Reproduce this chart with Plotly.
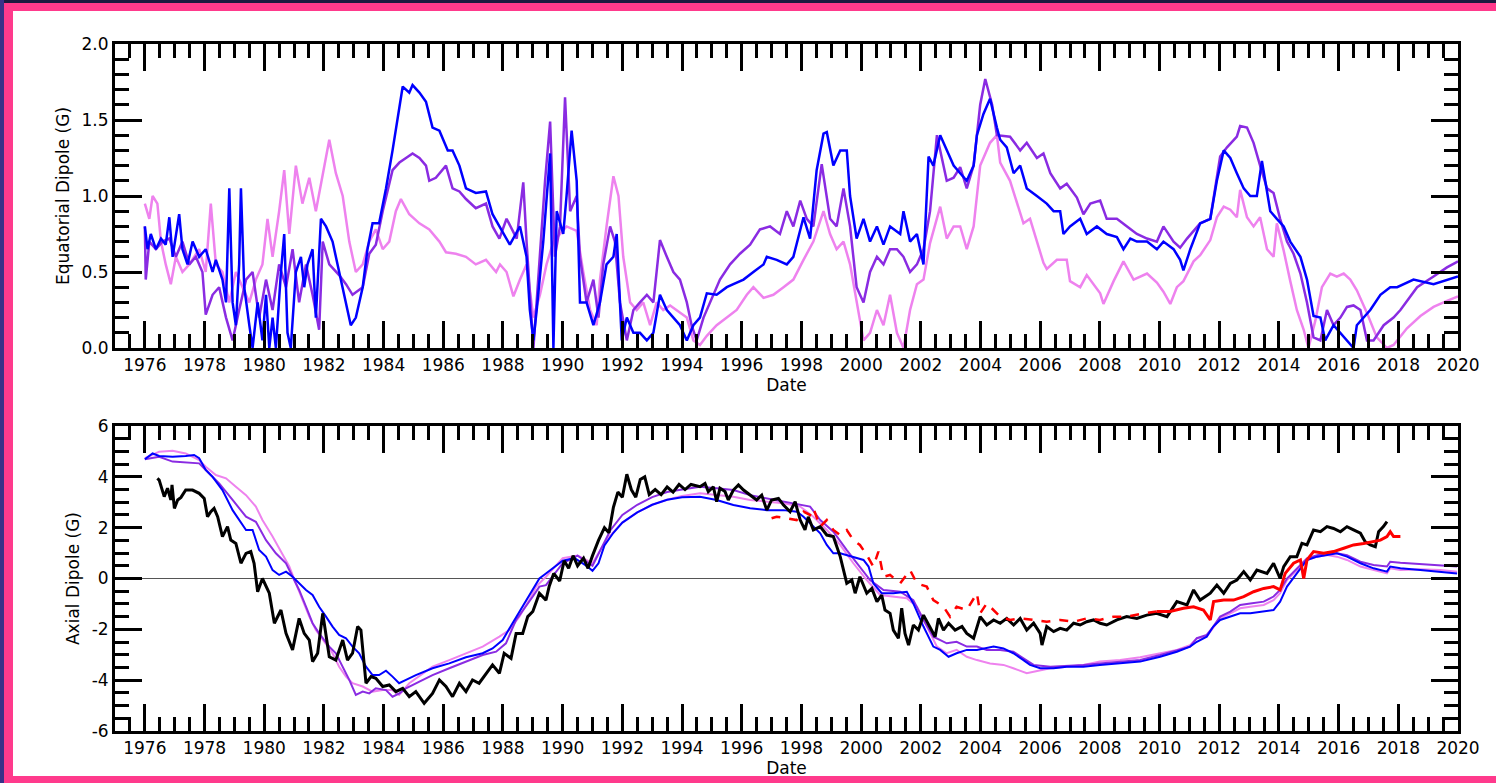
import plotly.graph_objects as go

# ---------------- data (year, value) ----------------
eq_blue = [(1976.0,0.80),(1976.09,0.65),(1976.2,0.75),(1976.37,0.65),(1976.54,0.72),(1976.7,0.68),(1976.82,0.86),(1976.93,0.60),
 (1977.15,0.88),(1977.26,0.65),(1977.43,0.55),(1977.6,0.70),(1977.82,0.60),(1978.04,0.65),(1978.27,0.50),(1978.38,0.58),
 (1978.6,0.45),(1978.72,0.30),(1978.83,1.05),(1978.94,0.30),(1979.05,0.15),(1979.16,0.55),(1979.22,1.05),(1979.33,0.40),
 (1979.5,0.15),(1979.61,0.0),(1979.78,0.30),(1979.94,0.05),(1980.06,0.35),(1980.17,0.0),(1980.28,0.20),(1980.39,0.0),
 (1980.56,0.50),(1980.67,0.75),(1980.78,0.10),(1980.89,0.0),(1981.06,0.50),(1981.23,0.60),(1981.34,0.40),(1981.45,0.55),
 (1981.62,0.65),(1981.73,0.20),(1981.9,0.85),(1982.07,0.80),(1982.29,0.70),(1982.51,0.50),(1982.74,0.30),(1982.9,0.15),
 (1983.07,0.20),(1983.3,0.40),(1983.46,0.65),(1983.63,0.82),(1983.85,0.82),(1984.08,1.05),(1984.3,1.30),(1984.53,1.60),
 (1984.64,1.72),(1984.86,1.68),(1984.97,1.73),(1985.2,1.68),(1985.42,1.62),(1985.64,1.45),(1985.87,1.43),(1986.15,1.30),
 (1986.31,1.30),(1986.54,1.20),(1986.76,1.05),(1987.09,1.02),(1987.43,1.03),(1987.65,0.88),(1987.88,0.80),
 (1988.23,0.68),(1988.57,0.80),(1988.79,0.60),(1988.9,0.25),(1989.02,0.05),(1989.13,0.25),(1989.35,0.70),(1989.58,1.28),
 (1989.69,0.0),(1989.8,0.90),(1990.02,0.75),(1990.13,1.00),(1990.3,1.43),(1990.47,1.10),(1990.58,0.30),(1990.8,0.30),
 (1991.03,0.15),(1991.25,0.30),(1991.47,0.55),(1991.7,0.60),(1991.81,0.75),(1991.98,0.05),(1992.15,0.20),(1992.37,0.10),
 (1992.59,0.10),(1992.82,0.05),(1993.04,0.10),(1993.26,0.35),(1993.49,0.25),(1993.71,0.20),(1993.93,0.15),(1994.16,0.05),
 (1994.38,0.15),(1994.6,0.20),(1994.83,0.36),(1995.16,0.35),(1995.5,0.40),(1995.72,0.42),(1996.06,0.45),(1996.39,0.50),
 (1996.73,0.55),(1996.84,0.60),(1997.17,0.58),(1997.51,0.55),(1997.73,0.60),(1998.07,0.86),(1998.29,0.72),(1998.51,1.17),
 (1998.74,1.41),(1998.85,1.42),(1999.07,1.20),(1999.3,1.30),(1999.52,1.30),(1999.63,1.00),(1999.85,0.72),(2000.08,0.85),
 (2000.3,0.70),(2000.53,0.80),(2000.75,0.68),(2000.97,0.80),(2001.31,0.75),(2001.42,0.90),(2001.64,0.70),(2001.87,0.75),
 (2002.09,0.55),(2002.26,1.26),(2002.42,1.20),(2002.65,1.40),(2002.87,1.30),(2003.1,1.20),(2003.32,1.15),(2003.54,1.10),
 (2003.77,1.20),(2003.88,1.40),(2004.1,1.54),(2004.32,1.64),(2004.55,1.45),(2004.66,1.37),(2004.88,1.32),(2005.11,1.15),
 (2005.33,1.20),(2005.55,1.05),(2005.89,1.00),(2006.22,0.95),(2006.45,0.90),(2006.67,0.90),(2006.78,0.75),(2007.0,0.80),
 (2007.34,0.85),(2007.56,0.75),(2007.9,0.80),(2008.23,0.75),(2008.57,0.73),(2008.79,0.65),(2009.02,0.72),(2009.24,0.70),
 (2009.58,0.70),(2009.91,0.65),(2010.13,0.70),(2010.47,0.65),(2010.69,0.58),(2010.8,0.51),(2011.03,0.65),(2011.36,0.82),
 (2011.7,0.85),(2011.92,1.10),(2012.15,1.30),(2012.37,1.25),(2012.59,1.15),(2012.82,1.05),(2013.04,1.00),(2013.26,1.00),
 (2013.43,1.23),(2013.71,0.90),(2013.93,0.85),(2014.16,0.80),(2014.38,0.70),(2014.72,0.60),(2014.94,0.45),(2015.16,0.21),
 (2015.39,0.20),(2015.55,0.05),(2015.83,0.15),(2016.06,0.10),(2016.28,0.05),(2016.5,0.0),(2016.61,0.15),(2016.84,0.20),
 (2017.06,0.25),(2017.4,0.35),(2017.73,0.40),(2017.96,0.40),(2018.51,0.45),(2019.18,0.42),(2019.91,0.46),(2020.0,0.47)]

eq_purple = [(1976.0,0.80),(1976.03,0.45),(1976.15,0.70),(1976.37,0.65),(1976.59,0.70),(1976.82,0.72),(1977.04,0.60),
 (1977.26,0.70),(1977.49,0.55),(1977.71,0.60),(1977.93,0.50),(1978.04,0.22),(1978.27,0.35),(1978.49,0.40),(1978.72,0.20),
 (1978.94,0.05),(1979.16,0.25),(1979.39,0.45),(1979.61,0.50),(1979.83,0.20),(1980.06,0.45),(1980.28,0.25),(1980.5,0.55),
 (1980.73,0.40),(1980.95,0.65),(1981.17,0.30),(1981.4,0.55),(1981.62,0.35),(1981.84,0.12),(1981.96,0.70),(1982.18,0.55),
 (1982.51,0.48),(1982.74,0.42),(1982.96,0.35),(1983.3,0.40),(1983.52,0.62),(1983.74,0.68),(1983.97,0.90),(1984.3,1.17),
 (1984.53,1.22),(1984.75,1.25),(1984.97,1.28),(1985.2,1.25),(1985.42,1.20),(1985.53,1.10),(1985.75,1.12),(1986.09,1.20),
 (1986.31,1.05),(1986.54,1.03),(1986.76,0.98),(1987.09,0.92),(1987.43,0.95),(1987.65,0.80),(1987.88,0.72),
 (1988.12,0.85),(1988.46,0.72),(1988.68,1.09),(1988.79,0.70),(1989.02,0.0),(1989.24,0.60),(1989.41,1.10),(1989.58,1.49),
 (1989.74,0.60),(1989.91,0.80),(1990.08,1.65),(1990.25,0.90),(1990.47,1.00),(1990.58,0.60),(1990.8,0.30),(1991.03,0.45),
 (1991.2,0.20),(1991.36,0.55),(1991.59,0.80),(1991.75,0.70),(1991.92,0.30),(1992.15,0.05),(1992.37,0.25),(1992.59,0.30),
 (1992.82,0.35),(1993.04,0.30),(1993.26,0.71),(1993.49,0.60),(1993.71,0.50),(1993.93,0.45),(1994.16,0.30),(1994.32,0.15),
 (1994.49,0.05),(1994.72,0.20),(1995.05,0.35),(1995.27,0.45),(1995.61,0.55),(1995.94,0.62),(1996.28,0.68),(1996.61,0.78),
 (1996.95,0.80),(1997.28,0.75),(1997.51,0.90),(1997.73,0.80),(1997.96,0.97),(1998.18,0.85),(1998.4,0.80),(1998.68,1.21),
 (1998.96,0.85),(1999.18,0.80),(1999.41,1.05),(1999.63,0.80),(1999.85,0.40),(2000.08,0.30),(2000.3,0.50),(2000.53,0.60),
 (2000.75,0.55),(2000.97,0.65),(2001.2,0.65),(2001.42,0.60),(2001.64,0.50),(2001.87,0.55),(2002.09,0.65),(2002.31,0.90),
 (2002.54,1.40),(2002.76,1.20),(2002.87,1.10),(2003.1,1.12),(2003.32,1.19),(2003.54,1.05),(2003.77,1.20),(2003.99,1.60),
 (2004.16,1.77),(2004.39,1.60),(2004.55,1.40),(2004.99,1.39),(2005.33,1.30),(2005.55,1.35),(2005.89,1.25),(2006.11,1.28),
 (2006.34,1.15),(2006.67,1.05),(2006.89,1.08),(2007.23,0.99),(2007.45,0.88),(2007.68,0.95),(2008.01,0.97),(2008.23,0.85),
 (2008.57,0.85),(2008.91,0.80),(2009.24,0.75),(2009.58,0.72),(2009.91,0.70),(2010.13,0.80),(2010.47,0.70),(2010.69,0.66),
 (2010.92,0.72),(2011.36,0.82),(2011.7,0.85),(2012.03,1.26),(2012.26,1.32),(2012.59,1.39),(2012.7,1.46),(2012.93,1.45),
 (2013.15,1.35),(2013.37,1.20),(2013.6,1.05),(2013.82,1.02),(2014.04,0.85),(2014.27,0.70),(2014.49,0.62),(2014.72,0.49),
 (2014.94,0.30),(2015.16,0.07),(2015.39,0.05),(2015.61,0.25),(2015.83,0.15),(2016.06,0.20),(2016.28,0.27),(2016.5,0.28),
 (2016.73,0.25),(2016.95,0.05),(2017.17,0.05),(2017.51,0.15),(2017.84,0.20),(2018.07,0.25),(2018.63,0.40),(2019.18,0.47),
 (2019.63,0.53),(2019.91,0.56),(2020.0,0.57)]

eq_violet = [(1976.0,0.95),(1976.15,0.85),(1976.26,1.00),(1976.42,0.95),(1976.54,0.70),(1976.7,0.55),(1976.87,0.42),
 (1977.04,0.60),(1977.26,0.50),(1977.49,0.55),(1977.82,0.65),(1978.04,0.50),(1978.21,0.95),(1978.38,0.55),(1978.6,0.50),
 (1978.83,0.30),(1979.05,0.50),(1979.27,0.40),(1979.5,0.30),(1979.72,0.45),(1979.94,0.55),(1980.11,0.85),(1980.28,0.60),
 (1980.5,0.90),(1980.67,1.17),(1980.84,0.75),(1981.06,1.20),(1981.28,0.95),(1981.51,1.12),(1981.73,0.90),(1981.96,1.15),
 (1982.18,1.37),(1982.4,1.15),(1982.63,1.00),(1982.85,0.70),(1983.07,0.50),(1983.3,0.55),(1983.52,0.70),(1983.74,0.78),
 (1983.97,0.65),(1984.19,0.70),(1984.41,0.90),(1984.58,0.98),(1984.86,0.88),(1985.2,0.82),(1985.53,0.78),(1985.87,0.70),
 (1986.09,0.63),(1986.42,0.62),(1986.76,0.60),(1987.09,0.55),(1987.43,0.58),(1987.77,0.50),
 (1987.9,0.55),(1988.12,0.50),(1988.35,0.34),(1988.57,0.45),(1988.79,0.55),(1989.02,0.20),(1989.24,0.35),(1989.46,0.55),
 (1989.69,0.70),(1990.13,0.80),(1990.47,0.77),(1990.69,0.50),(1990.92,0.25),(1991.14,0.15),(1991.25,0.45),(1991.47,0.80),
 (1991.7,1.13),(1991.87,1.00),(1992.03,0.60),(1992.26,0.30),(1992.48,0.25),(1992.7,0.30),(1992.93,0.15),(1993.15,0.30),
 (1993.37,0.25),(1993.6,0.28),(1993.82,0.25),(1994.16,0.20),(1994.38,0.05),(1994.6,0.02),(1994.83,0.08),(1995.16,0.15),
 (1995.5,0.20),(1995.83,0.25),(1996.17,0.35),(1996.39,0.40),(1996.73,0.33),(1997.06,0.35),(1997.4,0.40),(1997.73,0.45),
 (1998.07,0.58),(1998.4,0.70),(1998.74,0.90),(1998.96,0.75),(1999.18,0.65),(1999.41,0.70),(1999.63,0.55),(1999.85,0.30),
 (2000.08,0.05),(2000.3,0.10),(2000.53,0.25),(2000.75,0.15),(2000.97,0.35),(2001.2,0.10),(2001.42,0.0),(2001.64,0.25),
 (2001.87,0.42),(2002.09,0.45),(2002.31,0.69),(2002.65,0.93),(2002.87,0.72),(2003.1,0.80),(2003.32,0.80),(2003.54,0.65),
 (2003.77,0.80),(2003.99,1.20),(2004.32,1.35),(2004.55,1.40),(2004.66,1.22),(2004.99,1.10),(2005.22,0.95),(2005.44,0.82),
 (2005.66,0.85),(2005.89,0.70),(2006.11,0.56),(2006.22,0.52),(2006.56,0.58),(2006.89,0.58),(2007.0,0.44),(2007.34,0.40),
 (2007.56,0.48),(2008.01,0.36),(2008.12,0.29),(2008.46,0.44),(2008.79,0.57),(2009.13,0.45),(2009.58,0.49),(2009.91,0.43),
 (2010.13,0.37),(2010.36,0.29),(2010.58,0.40),(2010.8,0.44),(2011.14,0.57),(2011.36,0.61),(2011.7,0.71),(2011.92,0.86),
 (2012.15,0.93),(2012.37,0.91),(2012.59,0.86),(2012.7,1.04),(2012.93,0.86),(2013.15,0.80),(2013.37,0.86),(2013.6,0.65),
 (2013.82,0.60),(2013.93,0.82),(2014.16,0.64),(2014.38,0.44),(2014.6,0.25),(2014.83,0.12),(2014.99,0.0),(2015.22,0.18),
 (2015.44,0.40),(2015.72,0.49),(2015.94,0.47),(2016.17,0.49),(2016.39,0.45),(2016.61,0.38),(2016.95,0.23),(2017.28,0.07),
 (2017.62,0.0),(2017.84,0.02),(2018.29,0.13),(2018.74,0.21),(2019.18,0.27),(2019.63,0.31),(2019.91,0.33),(2020.0,0.34)]

ax_blue = [(1976.0,4.69),(1976.26,4.92),(1976.48,4.82),(1976.93,4.79),(1977.37,4.82),(1977.65,4.86),(1977.82,4.73),
 (1978.04,4.27),(1978.27,4.0),(1978.6,3.48),(1978.94,2.69),(1979.16,2.30),(1979.39,1.91),(1979.61,1.91),(1979.83,1.12),
 (1980.06,0.86),(1980.28,0.33),(1980.5,0.14),(1980.73,0.27),(1980.95,0.07),(1981.17,-0.19),(1981.4,-0.45),(1981.62,-0.65),
 (1981.84,-1.11),(1982.07,-1.50),(1982.29,-1.89),(1982.51,-2.22),(1982.74,-2.35),(1982.96,-2.68),(1983.18,-2.94),
 (1983.41,-3.47),(1983.63,-3.80),(1983.85,-3.80),(1984.08,-3.63),(1984.3,-3.86),(1984.52,-4.12),(1984.75,-3.99),
 (1985.08,-3.80),(1985.64,-3.53),(1986.2,-3.34),(1986.76,-3.10),(1987.32,-2.94),(1987.65,-2.75),(1987.99,-2.42),
 (1988.32,-1.76),(1988.66,-1.11),(1989.0,-0.45),(1989.22,0.0),(1989.44,0.20),
 (1990.0,0.7),(1990.4,0.8),(1990.8,0.5),(1991.0,0.3),(1991.2,0.6),(1991.4,1.3),(1991.7,1.8),(1992.0,2.2),(1992.5,2.6),
 (1993.0,2.9),(1993.5,3.1),(1994.0,3.2),(1994.6,3.22),(1995.16,3.09),(1995.72,2.89),(1996.28,2.76),(1996.84,2.69),
 (1997.4,2.69),(1997.85,2.63),(1998.07,2.43),(1998.4,2.04),(1998.63,1.78),(1998.85,1.32),(1999.07,0.99),(1999.3,0.99),
 (1999.52,0.92),(1999.85,0.79),(2000.08,0.73),(2000.25,0.47),(2000.41,-0.19),(2000.69,-0.58),(2001.08,-0.58),
 (2001.53,-0.52),(2001.75,-0.98),(2002.09,-1.89),(2002.42,-2.68),(2002.65,-2.81),(2002.93,-3.08),(2003.2,-2.94),
 (2003.54,-2.81),(2003.88,-2.81),(2004.21,-2.75),(2004.44,-2.68),(2004.77,-2.75),(2005.1,-2.94),(2005.44,-3.21),
 (2005.66,-3.40),(2006.0,-3.53),(2006.45,-3.53),(2006.89,-3.47),(2007.45,-3.47),(2008.0,-3.40),(2008.68,-3.34),
 (2009.35,-3.27),(2010.02,-3.08),(2010.58,-2.88),(2011.02,-2.68),(2011.25,-2.49),(2011.58,-2.29),(2011.8,-1.89),
 (2012.03,-1.63),(2012.37,-1.50),(2012.7,-1.37),(2013.04,-1.37),(2013.49,-1.30),(2013.82,-1.24),(2014.04,-0.91),
 (2014.27,-0.32),(2014.6,0.20),(2014.94,0.73),(2015.28,0.86),(2015.61,0.92),(2015.94,0.99),(2016.28,0.86),(2016.73,0.60),
 (2017.17,0.40),(2017.62,0.27),(2017.73,0.47),(2018.07,0.40),(2018.74,0.33),(2019.41,0.27),(2019.97,0.20)]

ax_purple = [(1976.0,4.69),(1976.48,4.79),(1976.93,4.60),(1977.37,4.56),(1977.82,4.53),(1978.04,4.27),(1978.49,3.74),
 (1978.94,3.09),(1979.39,2.43),(1979.72,2.23),(1980.06,1.51),(1980.39,0.99),(1980.73,0.60),(1980.95,0.07),(1981.17,-0.45),
 (1981.4,-1.11),(1981.62,-1.76),(1981.84,-2.16),(1982.18,-2.68),(1982.4,-2.94),(1982.63,-3.47),(1982.85,-3.99),
 (1983.07,-4.58),(1983.3,-4.45),(1983.52,-4.52),(1983.74,-4.32),(1984.08,-4.39),(1984.3,-4.65),(1984.53,-4.52),
 (1984.75,-4.32),(1985.2,-4.06),(1985.64,-3.80),(1986.2,-3.53),(1986.76,-3.27),(1987.32,-3.01),(1987.77,-2.88),
 (1988.1,-2.55),(1988.44,-1.63),(1988.77,-1.11),(1989.0,-0.71),(1989.22,-0.32),(1989.44,-0.26),
 (1990.0,0.6),(1990.5,0.9),(1991.0,0.5),(1991.3,1.2),(1991.6,1.9),(1992.0,2.5),(1992.5,2.9),(1993.0,3.2),(1993.5,3.4),
 (1994.0,3.5),(1994.6,3.61),(1995.16,3.55),(1995.72,3.48),(1996.28,3.28),(1996.84,3.15),(1997.4,3.02),(1997.96,2.89),
 (1998.29,2.83),(1998.63,2.30),(1999.07,1.84),(1999.52,1.12),(1999.96,0.47),(2000.3,-0.06),(2000.75,-0.45),
 (2001.31,-0.52),(2001.75,-0.85),(2002.09,-1.63),(2002.42,-2.29),(2002.87,-2.55),(2003.2,-2.49),(2003.54,-2.68),
 (2003.88,-2.68),(2004.21,-2.81),(2004.66,-2.81),(2005.1,-2.88),(2005.44,-3.14),(2005.78,-3.40),(2006.34,-3.47),
 (2006.89,-3.44),(2007.45,-3.40),(2008.0,-3.34),(2008.68,-3.27),(2009.35,-3.21),(2010.02,-3.01),(2010.58,-2.81),
 (2011.02,-2.68),(2011.25,-2.35),(2011.58,-2.22),(2011.8,-1.89),(2012.03,-1.50),(2012.37,-1.30),(2012.7,-1.04),
 (2013.04,-0.98),(2013.49,-0.91),(2013.82,-0.71),(2014.04,-0.45),(2014.27,0.0),(2014.6,0.40),(2014.94,0.79),
 (2015.28,0.92),(2015.61,0.99),(2015.94,0.99),(2016.28,0.92),(2016.73,0.66),(2017.17,0.53),(2017.62,0.47),(2017.73,0.66),
 (2018.07,0.62),(2018.74,0.57),(2019.41,0.53),(2019.97,0.47)]

ax_violet = [(1976.0,4.73),(1976.48,4.99),(1976.93,5.03),(1977.37,4.92),(1977.82,4.66),(1978.04,4.40),(1978.38,4.07),
 (1978.72,3.94),(1979.05,3.61),(1979.39,3.28),(1979.72,2.83),(1979.94,2.30),(1980.28,1.65),(1980.61,0.92),(1980.84,0.47),
 (1981.06,-0.19),(1981.28,-0.85),(1981.51,-1.50),(1981.73,-2.03),(1981.96,-2.42),(1982.29,-2.94),(1982.51,-3.47),
 (1982.74,-3.86),(1982.96,-4.12),(1983.3,-4.25),(1983.63,-4.45),(1983.97,-4.39),(1984.3,-4.39),(1984.52,-4.58),
 (1984.86,-4.12),(1985.31,-3.73),(1985.64,-3.47),(1986.2,-3.21),(1986.76,-2.94),(1987.32,-2.68),(1987.88,-2.29),
 (1988.21,-2.03),(1988.55,-1.50),(1988.88,-0.85),(1989.11,-0.32),(1989.44,0.07),
 (1990.0,0.8),(1990.5,0.9),(1991.0,0.6),(1991.3,1.2),(1991.6,1.7),(1992.0,2.2),(1992.5,2.6),(1993.0,2.9),(1993.5,3.1),
 (1994.0,3.25),(1994.6,3.35),(1995.16,3.28),(1995.72,3.22),(1996.28,3.09),(1996.84,3.02),(1997.4,2.96),(1997.96,2.83),
 (1998.4,2.43),(1998.85,1.91),(1999.3,1.32),(1999.74,0.60),(2000.19,-0.06),(2000.64,-0.65),(2001.08,-0.71),
 (2001.53,-0.78),(2001.87,-1.11),(2002.2,-1.89),(2002.54,-2.68),(2002.87,-2.94),(2003.2,-2.81),(2003.54,-3.08),
 (2003.88,-3.21),(2004.32,-3.34),(2004.77,-3.40),(2005.1,-3.53),(2005.55,-3.73),(2005.78,-3.67),(2006.34,-3.53),
 (2006.89,-3.47),(2007.45,-3.40),(2008.0,-3.27),(2008.68,-3.21),(2009.35,-3.10),(2010.02,-2.94),(2010.58,-2.81),
 (2011.02,-2.62),(2011.25,-2.35),(2011.58,-2.29),(2011.8,-1.96),(2012.03,-1.57),(2012.37,-1.37),(2012.7,-1.17),
 (2013.04,-1.11),(2013.49,-1.04),(2013.82,-0.85),(2014.04,-0.58),(2014.27,-0.06),(2014.6,0.33),(2014.94,0.73),
 (2015.28,0.86),(2015.61,0.92),(2015.94,0.86),(2016.28,0.73),(2016.73,0.47),(2017.17,0.33),(2017.62,0.20),(2017.73,0.40),
 (2018.07,0.33),(2018.74,0.36),(2019.41,0.33),(2019.97,0.27)]

ax_black = [(1976.42,3.94),(1976.48,3.87),(1976.65,3.22),(1976.76,3.55),(1976.87,3.09),(1976.91,3.68),(1976.99,2.76),
 (1977.1,3.09),(1977.21,3.19),(1977.37,3.48),(1977.6,3.48),(1977.82,3.35),(1977.99,3.15),(1978.1,2.43),(1978.21,2.63),
 (1978.32,2.76),(1978.44,2.43),(1978.6,1.65),(1978.77,2.04),(1978.88,1.51),(1979.05,1.38),(1979.22,0.60),(1979.39,0.99),
 (1979.55,1.06),(1979.66,0.60),(1979.78,-0.52),(1979.94,0.0),(1980.17,-0.58),(1980.34,-1.76),(1980.56,-1.24),
 (1980.73,-2.16),(1980.95,-2.81),(1981.17,-1.57),(1981.34,-2.16),(1981.51,-2.42),(1981.62,-3.27),(1981.79,-2.94),
 (1981.96,-1.37),(1982.18,-3.08),(1982.4,-3.21),(1982.63,-2.42),(1982.79,-3.21),(1982.96,-2.94),(1983.13,-1.89),
 (1983.24,-2.03),(1983.41,-4.12),(1983.58,-3.86),(1983.74,-3.93),(1983.97,-4.25),(1984.19,-4.19),(1984.41,-4.45),
 (1984.64,-4.32),(1984.86,-4.65),(1985.08,-4.45),(1985.36,-4.91),(1985.64,-4.52),(1985.87,-3.99),(1986.09,-4.25),
 (1986.31,-4.65),(1986.54,-4.12),(1986.76,-4.45),(1986.98,-3.99),(1987.2,-4.12),(1987.43,-3.73),(1987.65,-3.40),
 (1987.88,-3.73),(1988.04,-2.94),(1988.27,-3.14),(1988.44,-2.16),(1988.66,-2.16),(1988.83,-1.50),(1989.0,-1.30),
 (1989.22,-0.58),(1989.44,-0.85),(1989.55,-0.3),(1989.7,0.2),(1989.9,-0.1),(1990.05,0.7),(1990.2,0.4),(1990.35,0.9),
 (1990.5,0.5),(1990.7,0.8),(1990.85,0.4),(1991.0,0.9),(1991.2,1.5),(1991.4,2.0),(1991.55,1.8),(1991.7,2.8),(1991.85,3.4),
 (1992.0,3.2),(1992.15,4.1),(1992.3,3.5),(1992.45,3.2),(1992.6,3.9),(1992.75,4.0),(1992.9,3.3),(1993.1,3.5),(1993.3,3.3),
 (1993.5,3.6),(1993.7,3.4),(1993.9,3.7),(1994.1,3.5),(1994.3,3.7),(1994.6,3.61),(1994.77,3.74),(1994.88,3.42),
 (1995.05,3.61),(1995.16,3.02),(1995.27,3.55),(1995.44,3.42),(1995.55,3.09),(1995.72,3.48),(1995.89,3.68),(1996.06,3.48),
 (1996.28,3.28),(1996.5,3.09),(1996.67,3.28),(1996.84,2.69),(1997.0,3.09),(1997.23,3.15),(1997.4,2.89),(1997.62,2.63),
 (1997.79,3.02),(1997.96,2.30),(1998.12,1.91),(1998.23,2.43),(1998.4,1.91),(1998.63,2.04),(1998.85,1.71),(1999.07,1.65),
 (1999.3,0.86),(1999.52,-0.19),(1999.69,-0.06),(1999.8,-0.58),(1999.96,0.07),(2000.19,-0.58),(2000.36,-0.39),
 (2000.53,-0.91),(2000.69,-0.65),(2000.8,-1.24),(2000.97,-1.37),(2001.08,-2.03),(2001.25,-2.35),(2001.36,-1.17),
 (2001.47,-2.16),(2001.59,-2.62),(2001.75,-1.83),(2001.92,-2.03),(2002.09,-1.44),(2002.31,-1.89),(2002.48,-2.29),
 (2002.59,-1.57),(2002.76,-2.03),(2002.93,-1.76),(2003.15,-2.03),(2003.38,-1.89),(2003.54,-2.16),(2003.77,-2.35),
 (2003.99,-1.50),(2004.21,-1.83),(2004.44,-1.63),(2004.66,-1.76),(2004.88,-1.57),(2005.11,-1.83),(2005.33,-1.57),
 (2005.55,-2.03),(2005.78,-1.76),(2006.0,-2.16),(2006.06,-2.62),(2006.22,-1.89),(2006.45,-2.09),(2006.67,-1.96),
 (2006.89,-2.03),(2007.12,-1.76),(2007.34,-1.83),(2007.56,-1.70),(2007.79,-1.63),(2008.01,-1.76),(2008.23,-1.83),
 (2008.57,-1.63),(2008.9,-1.50),(2009.24,-1.57),(2009.57,-1.44),(2009.9,-1.37),(2010.25,-1.50),(2010.58,-0.91),
 (2010.92,-1.04),(2011.14,-0.45),(2011.36,-0.85),(2011.7,-0.58),(2011.92,-0.26),(2012.15,-0.58),(2012.37,-0.19),
 (2012.59,-0.06),(2012.82,0.27),(2013.04,-0.06),(2013.26,0.33),(2013.6,0.20),(2013.82,0.60),(2014.04,0.0),(2014.16,0.47),
 (2014.38,0.86),(2014.6,0.86),(2014.77,1.38),(2014.94,1.32),(2015.16,1.91),(2015.39,1.84),(2015.61,2.04),(2015.83,1.97),
 (2016.06,1.84),(2016.28,2.04),(2016.5,1.91),(2016.73,1.78),(2016.89,1.45),(2017.06,1.32),(2017.23,1.25),(2017.34,1.84),
 (2017.5,2.04),(2017.62,2.24)]

ax_red_sparse = [(1997.0,2.37),(1997.17,2.43),(1997.51,2.37),(1997.84,2.30),(1998.07,2.63),(1998.29,2.50),(1998.4,2.76),
 (1998.63,2.04),(1998.85,2.30),(1999.07,1.91),(1999.3,1.71),(1999.52,1.91),(1999.74,1.51),(1999.96,1.32),(2000.19,0.92),
 (2000.41,0.47),(2000.58,1.06),(2000.75,0.07),(2000.97,0.14),(2001.31,-0.19),(2001.64,0.33),(2001.87,-0.19),(2002.2,-0.32),
 (2002.42,-0.85),(2002.76,-1.11),(2002.98,-1.50),(2003.2,-1.11),(2003.54,-1.24),(2003.88,-0.58),(2003.99,-1.37),
 (2004.21,-0.98),(2004.44,-1.24),(2004.66,-1.50),(2004.99,-1.63),(2005.33,-1.57),(2005.78,-1.63),(2006.22,-1.70),
 (2006.67,-1.63),(2007.12,-1.70),(2007.56,-1.57),(2008.0,-1.63),(2008.46,-1.50),(2008.9,-1.50),(2009.46,-1.37),
 (2009.9,-1.30)]

ax_red = [(2009.9,-1.30),(2010.35,-1.30),(2010.8,-1.17),(2011.14,-1.11),(2011.47,-1.24),(2011.7,-1.63),(2011.81,-0.91),
 (2012.15,-0.85),(2012.48,-0.85),(2012.82,-0.71),(2013.15,-0.52),(2013.49,-0.39),(2013.82,-0.32),(2014.04,-0.45),
 (2014.21,0.20),(2014.49,0.60),(2014.72,0.73),(2014.83,0.0),(2014.94,0.73),(2015.16,1.06),(2015.5,0.99),(2015.83,1.06),
 (2016.17,1.19),(2016.5,1.32),(2016.84,1.38),(2017.17,1.45),(2017.4,1.51),(2017.62,1.65),(2017.73,1.84),(2017.84,1.65),
 (2018.07,1.65)]

x_tick_years = list(range(1976, 2021, 2))
eq_ticks = [0.0, 0.5, 1.0, 1.5, 2.0]
ax_ticks = [-6, -4, -2, 0, 2, 4, 6]
ax_tick_text = ["-6", "-4", "-2", "0", "2", "4", "6"]

# ---------------- figure ----------------
W, H = 1496, 783
ML, MR, MT, MB = 115, 38, 44, 52
PW, PH = W - ML - MR, H - MT - MB

def px_x(p):
    return (p - ML) / PW

def px_y(p):
    return (H - MB - p) / PH

fig = go.Figure()

def add(series, color, width, xa, ya, dash=None):
    xs = [p[0] for p in series]
    ys = [p[1] for p in series]
    fig.add_trace(go.Scatter(x=xs, y=ys, mode="lines", xaxis=xa, yaxis=ya,
                             line=dict(color=color, width=width, dash=dash),
                             showlegend=False, hoverinfo="skip"))

VIOLET, PURPLE, BLUE = "#EE82EE", "#8A2BE2", "#0000FF"
add(eq_violet, VIOLET, 2.5, "x", "y")
add(eq_purple, PURPLE, 2.5, "x", "y")
add(eq_blue, BLUE, 2.5, "x", "y")
add(ax_violet, VIOLET, 2, "x2", "y2")
add(ax_purple, PURPLE, 2, "x2", "y2")
add(ax_blue, BLUE, 2, "x2", "y2")
add(ax_black, "black", 3, "x2", "y2")
add(ax_red_sparse, "red", 2.5, "x2", "y2", dash="dash")
add(ax_red, "red", 3, "x2", "y2")

tick_font = dict(family="DejaVu Sans", size=17, color="black")
title_font = dict(family="DejaVu Sans", size=17, color="black")
minor_x = dict(dtick=0.5, tick0=1975, ticks="inside", ticklen=14, tickwidth=2.5, tickcolor="black", showgrid=False)

def xaxis_cfg(anchor):
    return dict(range=[1975, 2020], tickmode="array", tickvals=x_tick_years, ticks="inside",
                ticklen=27, tickwidth=2.5, tickcolor="black", showline=True, linecolor="black",
                linewidth=3, mirror="ticks", showgrid=False, zeroline=False, tickfont=tick_font,
                minor=minor_x, anchor=anchor, domain=[0, 1],
                title=dict(text="Date", font=title_font, standoff=1))

fig.update_layout(
    width=W, height=H, margin=dict(l=ML, r=MR, t=MT, b=MB),
    paper_bgcolor="#FF3A8C", plot_bgcolor="white", font=tick_font,
    xaxis=xaxis_cfg("y"),
    xaxis2=xaxis_cfg("y2"),
    yaxis=dict(range=[0, 2], tickmode="array", tickvals=eq_ticks, ticktext=[f"{v:.1f}" for v in eq_ticks],
               ticks="inside", ticklen=27, tickwidth=2.5, tickcolor="black", showline=True,
               linecolor="black", linewidth=3, mirror="ticks", showgrid=False, zeroline=False,
               tickfont=tick_font, domain=[(H - MB - 348) / PH, 1], anchor="x",
               minor=dict(dtick=0.1, tick0=0, ticks="inside", ticklen=14, tickwidth=2.5, tickcolor="black", showgrid=False),
               title=dict(text="Equatorial Dipole (G)", font=title_font, standoff=8)),
    yaxis2=dict(range=[-6, 6], tickmode="array", tickvals=ax_ticks, ticktext=ax_tick_text,
                ticks="inside", ticklen=27, tickwidth=2.5, tickcolor="black", showline=True,
                linecolor="black", linewidth=3, mirror="ticks", showgrid=False,
                zeroline=True, zerolinecolor="#555555", zerolinewidth=1,
                tickfont=tick_font, domain=[0, (H - MB - 426) / PH], anchor="x2",
                minor=dict(dtick=0.5, tick0=0, ticks="inside", ticklen=14, tickwidth=2.5, tickcolor="black", showgrid=False),
                title=dict(text="Axial Dipole (G)", font=title_font, standoff=8)),
)

shapes = [
    dict(type="rect", xref="paper", yref="paper", x0=px_x(13), x1=px_x(W + 5), y0=px_y(11), y1=px_y(776),
         fillcolor="white", line=dict(width=0), layer="below"),
    dict(type="rect", xref="paper", yref="paper", x0=px_x(-5), x1=px_x(W + 5), y0=px_y(-5), y1=px_y(3),
         fillcolor="#1b1a40", line=dict(width=0), layer="below"),
    dict(type="rect", xref="paper", yref="paper", x0=px_x(-5), x1=px_x(4), y0=px_y(-5), y1=px_y(H + 5),
         fillcolor="#3a3188", line=dict(width=0), layer="below"),
]
fig.update_layout(shapes=shapes)

fig.write_html("out.html")
